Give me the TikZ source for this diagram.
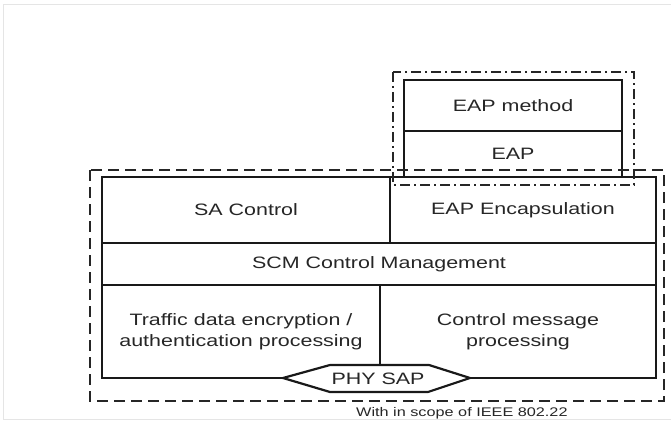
\documentclass[tikz,border=0pt]{standalone}
\usepackage{fontspec}
\setmainfont[FakeStretch=1.3]{Liberation Sans}
\begin{document}
\begin{tikzpicture}[x=1pt,y=-1pt,
  cell/.style={draw=black!90, line width=2.2pt, rectangle, inner sep=0pt, outer sep=0pt,
    align=center, text=black!85, font=\fontsize{16.5}{21}\selectfont},
  dashbox/.style={draw=black!85, line width=2pt, dash pattern=on 11pt off 6pt},
  dotdashbox/.style={draw=black!85, line width=2pt, dash pattern=on 10pt off 4pt on 2pt off 4pt},
  frame/.style={draw=black!10, line width=0.8pt}]
\useasboundingbox (0,0) rectangle (671,422);
\clip (0,0) rectangle (671,422);
% faint frame
\draw[frame] (671,4) -- (3,4) -- (3,419) -- (671,419);
% cells
\node[cell, minimum width=218pt, minimum height=51pt] (eapm) at (513,105.5) {EAP method};
\node[cell, minimum width=218pt, minimum height=46pt] (eap) at (513,154) {EAP};
\node[cell, minimum width=288pt, minimum height=66pt] (sa) at (246,210) {SA Control};
\node[cell, minimum width=266pt, minimum height=66pt] (enc) at (523,210) {EAP Encapsulation};
\node[cell, minimum width=554pt, minimum height=42pt] (scm) at (379,264) {SCM Control Management};
\node[cell, minimum width=278pt, minimum height=93pt] (tde) at (241,331.5) {Traffic data encryption /\\authentication processing};
\node[cell, minimum width=276pt, minimum height=93pt] (cmp) at (518,331.5) {Control message\\processing};
% PHY SAP hexagon
\filldraw[fill=white, draw=black!90, line width=2.2pt, line join=miter]
  (283,378) -- (330,365) -- (429,365) -- (470,378) -- (428,392) -- (330,392) -- cycle;
\node[text=black!85, font=\fontsize{16.5}{21}\selectfont] (phy) at (378,378.5) {PHY SAP};
% scope boxes
\draw[dotdashbox] (393,72) rectangle (634,185);
\draw[dashbox] (90,170) rectangle (664,401);
% caption
\node[anchor=base west, inner sep=0pt, text=black!85, font=\fontsize{12.5}{15}\selectfont] (cap) at (356,416.5) {With in scope of IEEE 802.22};
\end{tikzpicture}
\end{document}
